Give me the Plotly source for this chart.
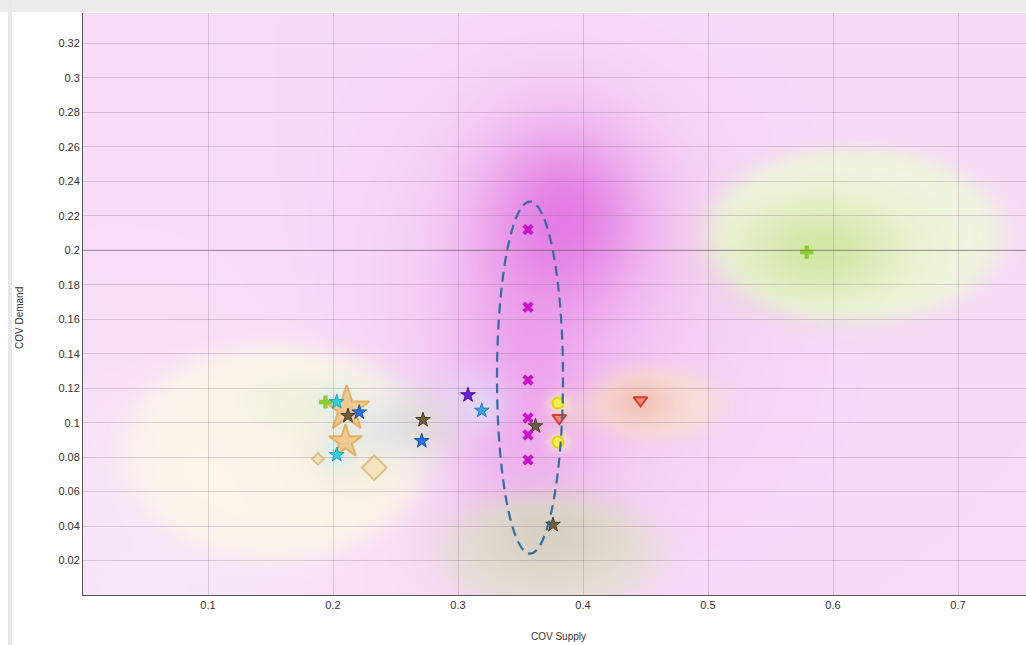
import base64, struct, zlib
import numpy as np
import plotly.graph_objects as go

# ---------------- data ----------------
orange_star_x = [0.211, 0.210]
orange_star_y = [0.108, 0.089]
diamond_x = [0.188, 0.233]
diamond_y = [0.079, 0.0738]
green_cross_x = [0.194, 0.579]
green_cross_y = [0.112, 0.199]
cyan_star_x = [0.203, 0.203]
cyan_star_y = [0.112, 0.0813]
olive_star_x = [0.212, 0.272, 0.362, 0.376]
olive_star_y = [0.104, 0.1016, 0.098, 0.0408]
blue_star_x = [0.221, 0.271]
blue_star_y = [0.106, 0.0894]
purple_star_x = [0.308]
purple_star_y = [0.116]
lightblue_star_x = [0.319]
lightblue_star_y = [0.107]
magenta_x_x = [0.356, 0.356, 0.356, 0.356, 0.356, 0.356]
magenta_x_y = [0.212, 0.167, 0.1247, 0.1027, 0.0929, 0.0784]
yellow_x = [0.380, 0.380]
yellow_y = [0.1114, 0.0888]
red_x = [0.381, 0.446]
red_y = [0.1027, 0.113]

x_ticks = [0.1, 0.2, 0.3, 0.4, 0.5, 0.6, 0.7]
y_ticks = [0.02, 0.04, 0.06, 0.08, 0.1, 0.12, 0.14, 0.16, 0.18, 0.2,
           0.22, 0.24, 0.26, 0.28, 0.3, 0.32]

X_MAX = 0.7544
Y_MAX = 0.3377

# ---------------- background shading (styling) ----------------
W, H = 472, 292
gx = (np.arange(W) + 0.5) / W * X_MAX
gy = Y_MAX - (np.arange(H) + 0.5) / H * Y_MAX
GX, GY = np.meshgrid(gx, gy)
img = np.zeros((H, W, 3), dtype=float)
img[:] = (247, 219, 247)


def blend(alpha, color):
    global img
    a = alpha[..., None]
    img = img * (1 - a) + np.array(color, dtype=float) * a


def gauss(cx, cy, sx, sy, color, A):
    blend(A * np.exp(-0.5 * (((GX - cx) / sx) ** 2 + ((GY - cy) / sy) ** 2)), color)


def flat(cx, cy, rx, ry, color, A, k=16):
    r = np.sqrt(((GX - cx) / rx) ** 2 + ((GY - cy) / ry) ** 2)
    blend(A / (1 + np.exp((r - 1) * k)), color)


# soft lighter lower-left
gauss(0.05, 0.0, 0.2, 0.12, (250, 236, 250), 0.6)
# magenta field
gauss(0.38, 0.16, 0.1, 0.08, (238, 168, 238), 0.45)
gauss(0.356, 0.12, 0.04, 0.07, (230, 120, 230), 0.42)
gauss(0.386, 0.22, 0.045, 0.036, (220, 88, 220), 0.65)
# beige region
flat(0.154, 0.083, 0.12, 0.062, (252, 246, 234), 0.95)
gauss(0.175, 0.112, 0.035, 0.012, (226, 240, 208), 0.45)
gauss(0.215, 0.085, 0.03, 0.02, (243, 226, 192), 0.4)
gauss(0.25, 0.097, 0.03, 0.014, (212, 228, 250), 0.55)
gauss(0.203, 0.083, 0.01, 0.009, (205, 240, 250), 0.5)
gauss(0.203, 0.112, 0.01, 0.008, (205, 240, 250), 0.45)
gauss(0.272, 0.1, 0.02, 0.012, (220, 214, 198), 0.55)
gauss(0.31, 0.118, 0.022, 0.011, (228, 216, 250), 0.55)
gauss(0.32, 0.107, 0.012, 0.008, (218, 234, 250), 0.45)
# green region
flat(0.618, 0.209, 0.117, 0.05, (240, 246, 222), 0.97, 18)
gauss(0.59, 0.2, 0.045, 0.02, (190, 222, 128), 0.6)
# taupe bottom region
flat(0.373, 0.024, 0.085, 0.032, (230, 226, 214), 0.9, 10)
gauss(0.372, 0.035, 0.04, 0.018, (204, 196, 176), 0.55)
# salmon region
flat(0.458, 0.111, 0.052, 0.02, (248, 226, 214), 0.85, 8)
gauss(0.445, 0.112, 0.02, 0.01, (240, 172, 152), 0.5)
gauss(0.39, 0.105, 0.015, 0.008, (245, 216, 200), 0.45)
# yellow glow
gauss(0.381, 0.1114, 0.006, 0.004, (250, 250, 205), 0.7)
gauss(0.381, 0.0888, 0.006, 0.004, (250, 250, 205), 0.7)

arr = np.clip(img, 0, 255).astype(np.uint8)


def png_bytes(a):
    h, w, _ = a.shape
    raw = b"".join(b"\x00" + a[i].tobytes() for i in range(h))

    def chunk(t, d):
        c = struct.pack(">I", len(d)) + t + d
        return c + struct.pack(">I", zlib.crc32(t + d) & 0xFFFFFFFF)

    return (b"\x89PNG\r\n\x1a\n"
            + chunk(b"IHDR", struct.pack(">IIBBBBB", w, h, 8, 2, 0, 0, 0))
            + chunk(b"IDAT", zlib.compress(raw, 9))
            + chunk(b"IEND", b""))


bg_src = "data:image/png;base64," + base64.b64encode(png_bytes(arr)).decode()

# ---------------- figure ----------------
fig = go.Figure()


def add(x, y, symbol, size, fill, line_color, line_width=1):
    fig.add_trace(go.Scatter(
        x=x, y=y, mode="markers", showlegend=False, hoverinfo="x+y",
        marker=dict(symbol=symbol, size=size, color=fill,
                    line=dict(color=line_color, width=line_width))))


add(orange_star_x, orange_star_y, "star", [34, 25], "#f5bd6e", "#e2982a", 2)
add(diamond_x, diamond_y, "diamond", [9, 19], "#f7e0b4", "#d9ae58", 2)
add(green_cross_x, green_cross_y, "cross", 11, "#8ccc30", "#78b820", 0)
add(cyan_star_x, cyan_star_y, "star", 11, "#2ad2e2", "#12aabb", 1)
add(olive_star_x, olive_star_y, "star", 11, "#6e5e3e", "#4a3e26", 1)
add(blue_star_x, blue_star_y, "star", 11, "#2474dc", "#1452aa", 1)
add(purple_star_x, purple_star_y, "star", 11, "#6a20d0", "#4a10a0", 1)
add(lightblue_star_x, lightblue_star_y, "star", 11, "#40a2e0", "#2080c0", 1)
add(magenta_x_x, magenta_x_y, "x", 10, "#cc12cc", "#aa00aa", 0)
add(yellow_x, yellow_y, "circle", 11, "#f4ee52", "#e2d200", 2)
add(red_x, red_y, "triangle-down", 12, "#f08a7a", "#d4402c", 2)

grid = "rgba(110,80,110,0.22)"
axis_font = dict(family="Liberation Sans, Arial, sans-serif", size=11, color="#333333")

fig.update_layout(
    width=1026, height=645,
    margin=dict(l=83, r=0, t=13, b=50),
    paper_bgcolor="white", plot_bgcolor="#f7dbf7",
    font=axis_font,
    xaxis=dict(range=[0, X_MAX], tickvals=x_ticks, ticktext=[str(v) for v in x_ticks],
               showgrid=True, gridcolor=grid, gridwidth=1, zeroline=False,
               showline=True, linecolor="#555555", linewidth=1, ticks="",
               tickfont=axis_font, fixedrange=True),
    yaxis=dict(range=[0, Y_MAX], tickvals=y_ticks, ticktext=[str(v) for v in y_ticks],
               showgrid=True, gridcolor=grid, gridwidth=1, zeroline=False,
               showline=True, linecolor="#555555", linewidth=1, ticks="",
               tickfont=axis_font, fixedrange=True),
    images=[dict(source=bg_src, xref="x", yref="y", x=0, y=Y_MAX,
                 sizex=X_MAX, sizey=Y_MAX, sizing="stretch",
                 xanchor="left", yanchor="top", layer="below")],
)

PW = 1026 - 83
PH = 595 - 13


def px_x(p):
    return (p - 83) / PW


def px_y(p):
    return (595 - p) / PH


fig.add_shape(type="rect", xref="paper", yref="paper",
              x0=px_x(0), x1=px_x(1030), y0=px_y(12), y1=px_y(0),
              fillcolor="#ebebeb", line=dict(width=0), layer="above")
fig.add_shape(type="rect", xref="paper", yref="paper",
              x0=px_x(8), x1=px_x(12), y0=px_y(650), y1=px_y(0),
              fillcolor="#e8e8e8", line=dict(width=0), layer="above")
# crosshair line at 0.2
fig.add_shape(type="line", xref="x domain", yref="y", x0=0, x1=1, y0=0.2, y1=0.2,
              line=dict(color="rgba(90,80,90,0.5)", width=1), layer="above")
# dashed ellipse around the magenta group
fig.add_shape(type="circle", xref="x", yref="y",
              x0=0.3312, x1=0.3840, y0=0.024, y1=0.2283,
              line=dict(color="#2f6f9f", width=2.2, dash="10px,6px"), layer="above")

fig.add_annotation(text="COV Demand", xref="paper", yref="paper",
                   x=px_x(19), y=px_y(318), xanchor="center", yanchor="middle",
                   textangle=-90, showarrow=False,
                   font=dict(family="Liberation Sans, Arial, sans-serif", size=10, color="#333"))
fig.add_annotation(text="COV Supply", xref="paper", yref="paper",
                   x=px_x(558), y=px_y(636), xanchor="center", yanchor="middle",
                   showarrow=False,
                   font=dict(family="Liberation Sans, Arial, sans-serif", size=10, color="#333"))

fig.write_html("out.html",
               config={"displayModeBar": False},
               post_script="document.body.style.margin='0';"
                           "document.body.style.overflow='hidden';")
